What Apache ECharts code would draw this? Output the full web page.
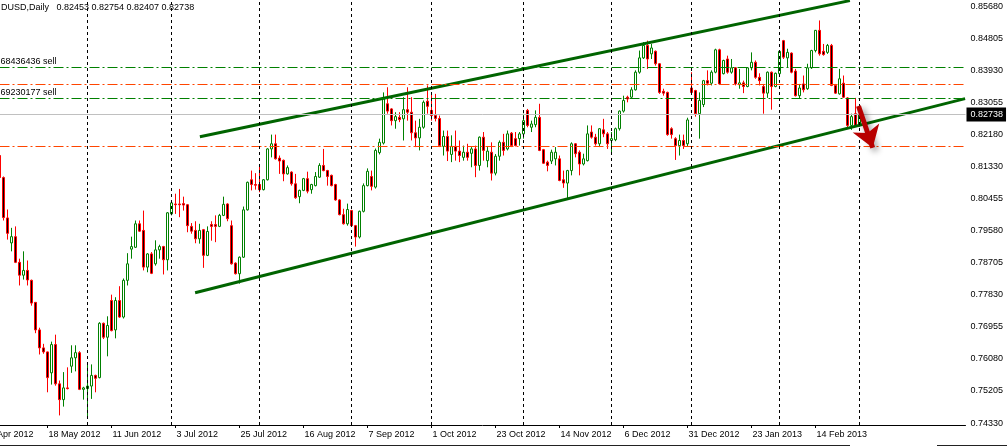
<!DOCTYPE html>
<html><head><meta charset="utf-8">
<script src="https://cdn.jsdelivr.net/npm/echarts@6/dist/echarts.min.js"></script>
<style>html,body{margin:0;padding:0;background:#fff}#c{width:1007px;height:447px}</style>
</head><body><div id="c"></div>
<script>
// ---- trading calendar (daily bars) ----
const tradingDays = [
 ['2012-04',[26,27,30]],
 ['2012-05',[1,2,3,4,7,8,9,10,11,14,15,16,17,18,21,22,23,24,25,28,29,30,31]],
 ['2012-06',[1,4,5,6,7,8,11,12,13,14,15,18,19,20,21,22,25,26,27,28,29]],
 ['2012-07',[2,3,4,5,6,9,10,11,12,13,16,17,18,19,20,23,24,25,26,27,30,31]],
 ['2012-08',[1,2,3,6,7,8,9,10,13,14,15,16,17,20,21,22,23,24,27,28,29,30,31]],
 ['2012-09',[3,4,5,6,7,10,11,12,13,14,17,18,19,20,21,24,25,26,27,28]],
 ['2012-10',[1,2,3,4,5,8,9,10,11,12,15,16,17,18,19,22,23,24,25,26,29,30,31]],
 ['2012-11',[1,2,5,6,7,8,9,12,13,14,15,16,19,20,21,22,23,26,27,28,29,30]],
 ['2012-12',[3,4,5,6,7,10,11,12,13,14,17,18,19,20,21,24,26,27,28,31]],
 ['2013-01',[2,3,4,7,8,9,10,11,14,15,16,17,18,21,22,23,24,25,28,29,30,31]],
 ['2013-02',[1,4,5,6,7,8,11,12,13,14,15,18,19,20,21,22,25,26,27,28]],
 ['2013-03',[1]]
];
const FIRST_BAR = '2012-05-02';
const FUTURE_SLOTS = 26;

// ---- OHLC (from 2012-05-02 to 2013-03-01) ----
const opens = [0.8162,0.8102,0.7992,0.7924,0.7941,0.7871,0.7836,0.7849,0.7822,0.7762,0.7687,0.7638,0.7627,0.7570,0.7647,0.7540,0.7497,0.7529,0.7588,0.7611,
0.7625,0.7525,0.7527,0.7534,0.7563,0.7557,0.7705,0.7667,0.7767,0.7687,0.7767,0.7722,0.7822,0.7907,0.7912,0.7976,0.7958,0.7858,0.7894,0.7867,
0.7905,0.7914,0.7878,0.8003,0.8030,0.8030,0.8031,0.8028,0.7969,0.7958,0.7935,0.7960,0.7890,0.7974,0.7974,0.7969,0.7999,0.8030,0.7971,0.7869,
0.7840,0.7885,0.8014,0.8096,0.8083,0.8083,0.8069,0.8096,0.8180,0.8194,0.8155,0.8149,0.8112,0.8117,0.8085,0.8050,0.8067,0.8099,0.8069,0.8080,
0.8103,0.8135,0.8121,0.8108,0.8083,0.8041,0.8001,0.7976,0.8012,0.7971,0.7940,0.8010,0.8080,0.8105,0.8076,0.8170,0.8196,0.8303,0.8289,0.8257,
0.8266,0.8262,0.8287,0.8280,0.8224,0.8210,0.8239,0.8310,0.8285,0.8271,0.8263,0.8187,0.8214,0.8165,0.8187,0.8174,0.8157,0.8171,0.8168,0.8180,
0.8135,0.8212,0.8148,0.8171,0.8114,0.8160,0.8198,0.8180,0.8223,0.8208,0.8208,0.8221,0.8285,0.8239,0.8246,0.8266,0.8178,0.8144,0.8147,0.8153,
0.8153,0.8096,0.8087,0.8121,0.8194,0.8171,0.8139,0.8148,0.8226,0.8212,0.8194,0.8232,0.8221,0.8203,0.8205,0.8235,0.8283,0.8321,0.8321,0.8341,
0.8389,0.8428,0.8462,0.8439,0.8446,0.8412,0.8337,0.8334,0.8235,0.8208,0.8189,0.8203,0.8194,0.8346,0.8339,0.8276,0.8301,0.8366,0.8359,0.8389,
0.8450,0.8385,0.8425,0.8389,0.8401,0.8355,0.8360,0.8350,0.8401,0.8416,0.8375,0.8350,0.8332,0.8389,0.8350,0.8385,0.8475,0.8428,0.8441,0.8392,
0.8325,0.8357,0.8344,0.8401,0.8448,0.8503,0.8446,0.8443,0.8462,0.8353,0.8330,0.8359,0.8319,0.8244,0.8276,0.82453];
const highs = [0.8176,0.8105,0.8015,0.7965,0.7969,0.7881,0.7901,0.7876,0.7824,0.7763,0.7693,0.7649,0.7628,0.7655,0.7674,0.7549,0.7572,0.7585,0.7645,0.7645,
0.7629,0.7532,0.7592,0.7593,0.7565,0.7708,0.7707,0.7724,0.7783,0.7776,0.7806,0.7827,0.7896,0.7941,0.7985,0.7985,0.8012,0.7896,0.7899,0.7931,
0.7919,0.7916,0.8008,0.8037,0.8058,0.8071,0.8050,0.8030,0.7978,0.7983,0.7976,0.7962,0.7969,0.7983,0.7999,0.8003,0.8050,0.8032,0.7985,0.7871,
0.7887,0.8023,0.8091,0.8121,0.8114,0.8139,0.8098,0.8182,0.8219,0.8219,0.8162,0.8151,0.8135,0.8119,0.8112,0.8069,0.8101,0.8118,0.8085,0.8117,
0.8141,0.8180,0.8123,0.8110,0.8085,0.8043,0.8017,0.8031,0.8014,0.7973,0.8012,0.8086,0.8127,0.8121,0.8181,0.8208,0.8334,0.8348,0.8291,0.8280,
0.8280,0.8321,0.8348,0.8321,0.8257,0.8262,0.8312,0.8353,0.8330,0.8330,0.8271,0.8230,0.8230,0.8217,0.8230,0.8203,0.8189,0.8194,0.8185,0.8189,
0.8214,0.8226,0.8185,0.8198,0.8166,0.8203,0.8221,0.8230,0.8226,0.8226,0.8226,0.8276,0.8289,0.8257,0.8285,0.8303,0.8180,0.8148,0.8178,0.8185,
0.8162,0.8121,0.8123,0.8198,0.8196,0.8176,0.8167,0.8244,0.8244,0.8221,0.8237,0.8262,0.8226,0.8226,0.8238,0.8285,0.8325,0.8325,0.8348,0.8394,
0.8448,0.8471,0.8475,0.8466,0.8448,0.8414,0.8344,0.8336,0.8239,0.8212,0.8219,0.8219,0.8265,0.8389,0.8341,0.8334,0.8368,0.8394,0.8394,0.8453,
0.8453,0.8423,0.8434,0.8425,0.8403,0.8398,0.8366,0.8403,0.8443,0.8421,0.8386,0.8357,0.8391,0.8391,0.8388,0.8448,0.8477,0.8453,0.8443,0.8398,
0.8357,0.8380,0.8412,0.8450,0.8504,0.8530,0.8466,0.8466,0.8466,0.8357,0.8398,0.8380,0.8321,0.8276,0.8319,0.82754];
const lows = [0.8099,0.7985,0.7933,0.7901,0.7869,0.7808,0.7824,0.7808,0.7753,0.7678,0.7620,0.7622,0.7517,0.7538,0.7535,0.7454,0.7478,0.7525,0.7570,0.7574,
0.7523,0.7497,0.7452,0.7499,0.7517,0.7555,0.7662,0.7615,0.7683,0.7664,0.7720,0.7718,0.7808,0.7881,0.7910,0.7954,0.7849,0.7844,0.7839,0.7862,
0.7881,0.7838,0.7849,0.7999,0.8003,0.7994,0.8012,0.7953,0.7949,0.7923,0.7922,0.7856,0.7888,0.7930,0.7926,0.7967,0.7997,0.7983,0.7865,0.7838,
0.7813,0.7883,0.8012,0.8067,0.8069,0.8062,0.8067,0.8094,0.8157,0.8151,0.8112,0.8092,0.8110,0.8080,0.8044,0.8032,0.8065,0.8059,0.8058,0.8078,
0.8101,0.8119,0.8080,0.8078,0.8039,0.7999,0.7974,0.7971,0.7969,0.7914,0.7936,0.8007,0.8078,0.8067,0.8072,0.8165,0.8192,0.8276,0.8244,0.8235,
0.8253,0.8203,0.8257,0.8203,0.8185,0.8176,0.8235,0.8276,0.8257,0.8255,0.8185,0.8162,0.8147,0.8144,0.8148,0.8144,0.8148,0.8148,0.8130,0.8103,
0.8121,0.8148,0.8130,0.8094,0.8108,0.8148,0.8162,0.8176,0.8185,0.8187,0.8189,0.8208,0.8239,0.8226,0.8239,0.8174,0.8139,0.8119,0.8139,0.8135,
0.8092,0.8074,0.8044,0.8108,0.8157,0.8108,0.8135,0.8146,0.8208,0.8189,0.8185,0.8212,0.8180,0.8167,0.8201,0.8230,0.8279,0.8307,0.8316,0.8339,
0.8385,0.8425,0.8398,0.8425,0.8407,0.8330,0.8325,0.8216,0.8208,0.8150,0.8162,0.8180,0.8187,0.8330,0.8268,0.8208,0.8294,0.8353,0.8353,0.8386,
0.8355,0.8383,0.8385,0.8385,0.8353,0.8344,0.8332,0.8348,0.8394,0.8371,0.8353,0.8276,0.8319,0.8287,0.8348,0.8380,0.8425,0.8403,0.8386,0.8323,
0.8316,0.8334,0.8341,0.8398,0.8443,0.8434,0.8434,0.8439,0.8351,0.8330,0.8328,0.8319,0.8235,0.8232,0.8241,0.82407];
const closes = [0.8102,0.7993,0.7950,0.7941,0.7871,0.7836,0.7849,0.7823,0.7760,0.7687,0.7638,0.7627,0.7557,0.7647,0.7540,0.7497,0.7529,0.7527,0.7611,0.7625,
0.7525,0.7529,0.7534,0.7563,0.7555,0.7705,0.7667,0.7699,0.7685,0.7767,0.7722,0.7822,0.7867,0.7914,0.7976,0.7956,0.7858,0.7894,0.7841,0.7905,
0.7914,0.7878,0.8006,0.8033,0.8028,0.8028,0.8027,0.7971,0.7956,0.7935,0.7958,0.7890,0.7955,0.7969,0.7969,0.7999,0.8029,0.7990,0.7867,0.7840,
0.7885,0.8014,0.8089,0.8083,0.8081,0.8069,0.8096,0.8180,0.8194,0.8153,0.8147,0.8112,0.8129,0.8085,0.8047,0.8067,0.8099,0.8065,0.8083,0.8105,
0.8135,0.8121,0.8105,0.8080,0.8041,0.8001,0.7976,0.8015,0.7971,0.7940,0.8010,0.8080,0.8119,0.8078,0.8176,0.8198,0.8317,0.8283,0.8257,0.8268,
0.8260,0.8287,0.8280,0.8224,0.8210,0.8239,0.8307,0.8296,0.8271,0.8263,0.8189,0.8214,0.8174,0.8187,0.8174,0.8162,0.8171,0.8157,0.8180,0.8135,
0.8212,0.8176,0.8174,0.8114,0.8160,0.8198,0.8176,0.8221,0.8189,0.8189,0.8221,0.8257,0.8244,0.8248,0.8266,0.8176,0.8141,0.8135,0.8171,0.8171,
0.8094,0.8087,0.8121,0.8194,0.8167,0.8139,0.8153,0.8221,0.8212,0.8194,0.8235,0.8221,0.8194,0.8208,0.8235,0.8283,0.8312,0.8316,0.8341,0.8389,
0.8428,0.8462,0.8425,0.8455,0.8412,0.8334,0.8332,0.8219,0.8219,0.8189,0.8203,0.8189,0.8259,0.8334,0.8276,0.8312,0.8366,0.8359,0.8389,0.8450,
0.8357,0.8421,0.8389,0.8401,0.8357,0.8360,0.8350,0.8401,0.8416,0.8375,0.8366,0.8332,0.8389,0.8350,0.8386,0.8446,0.8430,0.8443,0.8389,0.8325,
0.8346,0.8341,0.8401,0.8448,0.8503,0.8439,0.8437,0.8462,0.8353,0.8332,0.8371,0.8321,0.8244,0.8268,0.8244,0.82738];

// ---- price axis ----
const yTicks = [0.85680,0.84805,0.83930,0.83055,0.82180,0.81330,0.80455,0.79580,0.78705,0.77830,0.76955,0.76080,0.75205,0.74330];
const Y_MIN = 0.74279, Y_MAX = 0.85857;

// ---- horizontal levels ----
const orderPrices = [0.84018, 0.83174];
const orderLabels = ['68436436 sell', '69230177 sell'];
const stopPrices = [0.83555, 0.81866];
const symbolName = 'DUSD,Daily';

// ---- drawn objects (bar index, price) ----
const upperTrend = [[54.1, 0.8213], [216.6, 0.8584]];
const lowerTrend = [[52.9, 0.7788], [245.4, 0.8317]];
const arrowPath = [[218.75, 0.8297], [222.3, 0.8183]];

const MONTHS = ['Jan','Feb','Mar','Apr','May','Jun','Jul','Aug','Sep','Oct','Nov','Dec'];
const pad2 = d => String(d).padStart(2, '0');
const dates = [];
tradingDays.forEach(([ym, days]) => days.forEach(d => dates.push(ym + '-' + pad2(d))));
const lead = dates.indexOf(FIRST_BAR);
const categories = dates.concat(Array.from({length: FUTURE_SLOTS}, (_, k) => 'future' + k));
const candleData = categories.map((c, i) => {
  const k = i - lead;
  return (k >= 0 && k < opens.length) ? [opens[k], closes[k], lows[k], highs[k]] : '-';
});
const separators = tradingDays.slice(1).map(([ym, days]) => ym + '-' + pad2(days[0]));
const last = opens.length - 1;
const lastClose = closes[last];
const titleText = symbolName + '   ' + [opens[last], highs[last], lows[last], closes[last]].map(v => v.toFixed(5)).join(' ');

const FONT = "'Liberation Sans',Arial,sans-serif";
const FS = 9;
const labelEvery = (i) => i % 16 === 0 && i < dates.length;
const fmtDate = (v) => {
  if (v.indexOf('future') === 0) return '';
  const p = v.split('-');
  return (+p[2]) + ' ' + MONTHS[+p[1] - 1] + ' ' + p[0];
};

const hLine = [];
hLine.push({yAxis: lastClose, lineStyle: {color: '#c0c0c0', type: 'solid', width: 1},
  label: {show: true, position: 'end', formatter: lastClose.toFixed(5), backgroundColor: '#000', color: '#fff',
    fontFamily: FONT, fontSize: FS, padding: [3, 3, 2, 4], distance: 1}});
orderPrices.forEach((p, i) => hLine.push({yAxis: p, lineStyle: {color: '#008000', type: [10, 3, 2, 3], width: 1},
  label: {show: true, position: 'insideStartTop', formatter: orderLabels[i], color: '#000', fontFamily: FONT, fontSize: FS, distance: [19, 1]}}));
stopPrices.forEach(p => hLine.push({yAxis: p, lineStyle: {color: '#ff4500', type: [10, 3, 2, 3], width: 1}, label: {show: false}}));
separators.forEach(d => hLine.push({xAxis: d, lineStyle: {color: '#000', type: [3, 3], width: 1}, label: {show: false}}));

const chart = echarts.init(document.getElementById('c'), null, {renderer: 'canvas'});
chart.setOption({
  animation: false,
  backgroundColor: '#ffffff',
  title: {text: titleText, left: 1, top: 3, padding: 0,
    textStyle: {fontFamily: FONT, fontSize: FS, fontWeight: 'normal', color: '#000'}},
  grid: {left: -18.5, right: 41.5, top: 0, bottom: 22, containLabel: false, outerBoundsMode: 'none'},
  xAxis: [{
    type: 'category', data: categories, boundaryGap: true,
    axisLine: {show: true, lineStyle: {color: '#000', width: 1}},
    axisTick: {show: true, alignWithLabel: true, interval: labelEvery, length: 3, lineStyle: {color: '#000'}},
    axisLabel: {interval: labelEvery, formatter: fmtDate, align: 'left', margin: 5, padding: [0, 0, 0, 1],
      color: '#000', fontFamily: FONT, fontSize: FS, hideOverlap: false},
    splitLine: {show: false}
  }, {
    type: 'value', min: -0.5, max: categories.length - 0.5, show: false
  }],
  yAxis: [{
    type: 'value', position: 'right', min: Y_MIN, max: Y_MAX,
    axisLine: {show: true, lineStyle: {color: '#000', width: 1}},
    axisTick: {show: true, length: 3, customValues: yTicks, lineStyle: {color: '#000'}},
    axisLabel: {customValues: yTicks, formatter: v => v.toFixed(5), margin: 5, color: '#000', fontFamily: FONT, fontSize: FS},
    splitLine: {show: false}
  }],
  series: [{
    type: 'candlestick', xAxisIndex: 0, yAxisIndex: 0, data: candleData, barWidth: 2,
    itemStyle: {color: '#ffffff', color0: '#000000', borderColor: '#008000', borderColor0: '#ff0000', borderWidth: 1},
    markLine: {silent: true, symbol: ['none', 'none'], precision: 5, animation: false, data: hLine},
    z: 3
  }, {
    type: 'line', xAxisIndex: 1, yAxisIndex: 0, data: upperTrend, symbol: 'none', silent: true,
    lineStyle: {color: '#006400', width: 3}, z: 4
  }, {
    type: 'line', xAxisIndex: 1, yAxisIndex: 0, data: lowerTrend, symbol: 'none', silent: true,
    lineStyle: {color: '#006400', width: 3}, z: 4
  }, {
    type: 'line', xAxisIndex: 1, yAxisIndex: 0, data: [], symbol: 'none', silent: true, z: 5,
    markLine: {silent: true, symbol: ['none', 'arrow'], symbolSize: 21, precision: 5, animation: false,
      itemStyle: {color: '#b80000'},
      lineStyle: {color: '#b80000', width: 5, type: 'solid', shadowBlur: 6, shadowColor: 'rgba(0,0,0,0.45)', shadowOffsetX: 3, shadowOffsetY: 3},
      label: {show: false},
      data: [[{coord: arrowPath[0]}, {coord: arrowPath[1]}]]}
  }],
  graphic: [
    {type: 'line', silent: true, shape: {x1: 0, y1: 445.5, x2: 850, y2: 445.5}, style: {stroke: '#222', lineWidth: 1}},
    {type: 'line', silent: true, shape: {x1: 937, y1: 445.5, x2: 1007, y2: 445.5}, style: {stroke: '#222', lineWidth: 1}}
  ]
});
</script>
</body></html>
